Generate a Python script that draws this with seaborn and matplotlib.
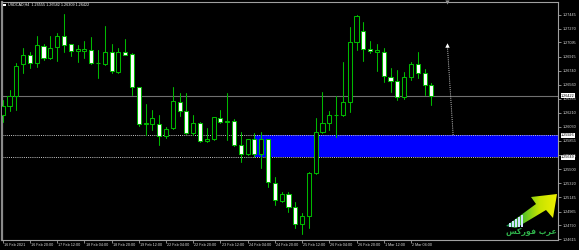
import numpy as np
import pandas as pd
import matplotlib
matplotlib.use("Agg")
import matplotlib.pyplot as plt
import matplotlib.transforms as mtransforms
from matplotlib.patches import Rectangle, Polygon
import seaborn as sns

# ---------------- data ----------------
symbol = "USDCAD,H4"
opens = [1.26181, 1.26294, 1.26420, 1.26820, 1.26937, 1.26832, 1.27054, 1.26903, 1.27034, 1.27176,
         1.27072, 1.26984, 1.26991, 1.27000, 1.26838, 1.26820, 1.26979, 1.26727, 1.26979, 1.26946,
         1.26530, 1.26068, 1.26071, 1.26064, 1.25916, 1.26013, 1.26345, 1.26235, 1.25950, 1.26084,
         1.25857, 1.25875, 1.26147, 1.26089, 1.26105, 1.25799, 1.25686, 1.25875, 1.25686, 1.25875,
         1.25328, 1.25101, 1.25186, 1.25018, 1.24804, 1.24908, 1.25446, 1.25971, 1.26084, 1.26177,
         1.26181, 1.26341, 1.27105, 1.27243, 1.27009, 1.26979, 1.26979, 1.26664, 1.26609, 1.26412,
         1.26656, 1.26824, 1.26714, 1.26555]
highs = [1.26370, 1.26496, 1.26840, 1.27021, 1.26971, 1.27176, 1.27076, 1.27176, 1.27210, 1.27454,
         1.27075, 1.27063, 1.27113, 1.27168, 1.27000, 1.27306, 1.27072, 1.27021, 1.27135, 1.26958,
         1.26532, 1.26320, 1.26244, 1.26181, 1.26034, 1.26530, 1.26454, 1.26454, 1.26181, 1.26087,
         1.26013, 1.26155, 1.26244, 1.26462, 1.26127, 1.25971, 1.25878, 1.25950, 1.25971, 1.25878,
         1.25404, 1.25215, 1.25215, 1.25089, 1.24950, 1.25467, 1.26139, 1.26475, 1.26235, 1.26420,
         1.26853, 1.27286, 1.27441, 1.27357, 1.27117, 1.27072, 1.27021, 1.26769, 1.26748, 1.26727,
         1.26853, 1.26971, 1.26757, 1.26582]
lows = [1.26097, 1.26235, 1.26244, 1.26714, 1.26769, 1.26790, 1.26874, 1.26890, 1.26865, 1.26979,
        1.26924, 1.26853, 1.26903, 1.26828, 1.26643, 1.26811, 1.26706, 1.26706, 1.26938, 1.26433,
        1.26046, 1.25929, 1.25992, 1.25803, 1.25887, 1.26001, 1.26168, 1.25945, 1.25929, 1.25845,
        1.25845, 1.25872, 1.26076, 1.25866, 1.25790, 1.25593, 1.25677, 1.25656, 1.25509, 1.25270,
        1.25047, 1.25089, 1.24963, 1.24753, 1.24682, 1.24753, 1.25443, 1.25950, 1.25992, 1.25904,
        1.26170, 1.26223, 1.27000, 1.26861, 1.26958, 1.26739, 1.26601, 1.26475, 1.26370, 1.26379,
        1.26622, 1.26643, 1.26433, 1.26309]
closes = [1.26294, 1.26420, 1.26802, 1.26933, 1.26832, 1.27059, 1.26903, 1.27029, 1.27176, 1.27063,
          1.26987, 1.27009, 1.27016, 1.26832, 1.26834, 1.26979, 1.26735, 1.26975, 1.26941, 1.26530,
          1.26068, 1.26076, 1.26147, 1.25916, 1.26008, 1.26354, 1.26235, 1.25950, 1.26080, 1.25857,
          1.25879, 1.26152, 1.26089, 1.26109, 1.25803, 1.25686, 1.25875, 1.25690, 1.25875, 1.25341,
          1.25110, 1.25186, 1.25026, 1.24808, 1.24908, 1.25446, 1.25971, 1.26076, 1.26181, 1.26185,
          1.26341, 1.27105, 1.27432, 1.27009, 1.26987, 1.27000, 1.26672, 1.26609, 1.26404, 1.26656,
          1.26824, 1.26706, 1.26559, 1.26422]

date_tick_idx = [0, 4, 8, 12, 16, 20, 24, 28, 32, 36, 40, 44, 48, 52, 56, 60]
date_labels = ["16 Feb 2021", "16 Feb 20:00", "17 Feb 12:00", "18 Feb 04:00", "18 Feb 20:00",
               "19 Feb 12:00", "22 Feb 04:00", "22 Feb 20:00", "23 Feb 12:00", "24 Feb 04:00",
               "24 Feb 20:00", "25 Feb 12:00", "26 Feb 04:00", "26 Feb 20:00", "1 Mar 12:00",
               "2 Mar 04:00"]
price_ticks = [1.27445, 1.27270, 1.27095, 1.26915, 1.26740, 1.26560, 1.26385, 1.26210, 1.26030,
               1.25855, 1.25675, 1.25500, 1.25320, 1.25145, 1.24965, 1.24790, 1.24615]

bid_price = 1.26422
zone_top = 1.25926
zone_bottom = 1.25649
zone_start_idx = 37
arrow_x = [66.2, 65.35]
arrow_y = [1.25929, 1.27063]
shift_marker_idx = 65.3
logo_text = "عرب فوركس"

# ---------------- style ----------------
GREEN = "#00b800"
GRID_GRAY = "#a0a0a0"
TXT = "#dcdcdc"
FS = 2.7

sns.set_theme(style="dark", rc={"axes.facecolor": "black", "figure.facecolor": "black",
                                "savefig.facecolor": "black"})
plt.rcParams["font.family"] = ["Liberation Sans", "DejaVu Sans"]

W, H = 579, 250
fig = plt.figure(figsize=(W / 100, H / 100), dpi=100)
L_px, R_px, T_px, B_px = 1.5, 558.0, 1.5, 240.0
ax = fig.add_axes([L_px / W, 1 - B_px / H, (R_px - L_px) / W, (B_px - T_px) / H])
ax.set_facecolor("black")

n = len(opens)
idx = np.arange(n)
df = pd.DataFrame({"idx": idx, "open": opens, "high": highs, "low": lows, "close": closes})

# wicks via seaborn (one unit per candle)
wick = pd.concat([df[["idx", "high"]].rename(columns={"high": "price"}),
                  df[["idx", "low"]].rename(columns={"low": "price"})])
wick["candle"] = wick["idx"]
sns.lineplot(data=wick, x="idx", y="price", units="candle", estimator=None, sort=False,
             color=GREEN, lw=0.75, ax=ax, legend=False, zorder=3)

# bodies
bull = df["close"] >= df["open"]
bottoms = np.minimum(df["open"], df["close"])
heights = np.abs(df["close"] - df["open"])
ax.bar(df["idx"][bull], heights[bull], bottom=bottoms[bull], width=0.6,
       color="black", edgecolor=GREEN, linewidth=0.75, zorder=4)
ax.bar(df["idx"][~bull], heights[~bull], bottom=bottoms[~bull], width=0.6,
       color="white", edgecolor=GREEN, linewidth=0.75, zorder=4)

# zone rectangle & lines
ax.add_patch(Rectangle((zone_start_idx, zone_bottom), 200, zone_top - zone_bottom,
                       facecolor="#0000ff", edgecolor="none", zorder=1))
for lvl in (zone_top, zone_bottom):
    ax.axhline(lvl, color="#c8c8c8", lw=0.7, ls=(0, (1, 1.2)), zorder=2)
ax.axhline(bid_price, color="#707070", lw=0.8, zorder=2)

# dotted arrow
ax.plot(arrow_x, arrow_y, color="#c8c8c8", lw=0.7, ls=(0, (1, 1.2)), zorder=5)
ax.plot([arrow_x[1]], [arrow_y[1]], marker="^", ms=3.2, color="white",
        markeredgewidth=0, zorder=6)
ax.plot([shift_marker_idx], [1.0], marker="v", ms=3, color="#909090",
        transform=mtransforms.blended_transform_factory(ax.transData, ax.transAxes),
        clip_on=False, markeredgewidth=0, zorder=6)

# limits
x_per_px = 1 / 6.804
ax.set_xlim(-(2.7 - L_px) * x_per_px, (R_px - 2.7) * x_per_px)
p_per_px = 0.000126
ax.set_ylim(1.27630 - p_per_px * B_px, 1.27630 - p_per_px * T_px)

# axes
for s in ax.spines.values():
    s.set_visible(True)
    s.set_color(GRID_GRAY)
    s.set_linewidth(0.8)
ax.spines["left"].set_linewidth(1.6)
ax.spines["left"].set_color("#8a8a8a")
ax.grid(False)
ax.set_xlabel("")
ax.set_ylabel("")

ax.yaxis.tick_right()
ax.set_yticks(price_ticks)
ax.set_yticklabels([f"{p:.5f}" for p in price_ticks])
ax.set_xticks(date_tick_idx)
ax.set_xticklabels(date_labels)
ax.tick_params(axis="both", which="both", length=2, width=0.6, color=GRID_GRAY,
               labelcolor=TXT, labelsize=FS, pad=1, direction="out")
ax.tick_params(axis="x", bottom=True, top=False, pad=0.5)
ax.tick_params(axis="y", right=True, left=False, labelright=True, labelleft=False)
off = mtransforms.ScaledTranslation(1.2 / 100, 0, fig.dpi_scale_trans)
for lbl in ax.get_xticklabels():
    lbl.set_horizontalalignment("left")
    lbl.set_transform(lbl.get_transform() + off)

# highlighted price labels
bt = mtransforms.blended_transform_factory(ax.transAxes, ax.transData)
for lvl in (bid_price, zone_top, zone_bottom):
    ax.text(1.0 + 3.0 / (R_px - L_px), lvl, f"{lvl:.5f}", transform=bt, ha="left", va="center",
            fontsize=FS, color="black", clip_on=False, zorder=10,
            bbox=dict(facecolor="white", edgecolor="none", pad=0.35))

# header
fig.text(8 / W, 1 - 5 / H, f"{symbol}  {opens[-1]:.5f} {highs[-1]:.5f} {lows[-1]:.5f} {closes[-1]:.5f}",
         ha="left", va="center", fontsize=FS, color="white")
fig.add_artist(Rectangle((3.4 / W, 1 - 6.2 / H), 2.2 / W, 2.2 / H, transform=fig.transFigure,
                         facecolor="white", edgecolor="none"))

# logo (watermark)
AR_FORMS = {
    "ع": ("\uFEC9", "\uFECA", "\uFECB", "\uFECC"),
    "ر": ("\uFEAD", "\uFEAE", None, None),
    "ب": ("\uFE8F", "\uFE90", "\uFE91", "\uFE92"),
    "ف": ("\uFED1", "\uFED2", "\uFED3", "\uFED4"),
    "و": ("\uFEED", "\uFEEE", None, None),
    "ك": ("\uFED9", "\uFEDA", "\uFEDB", "\uFEDC"),
    "س": ("\uFEB1", "\uFEB2", "\uFEB3", "\uFEB4"),
}


def shape_arabic(s):
    out = []
    for i, c in enumerate(s):
        if c not in AR_FORMS:
            out.append(c)
            continue
        f = AR_FORMS[c]
        prev = s[i - 1] if i > 0 else ""
        nxt = s[i + 1] if i + 1 < len(s) else ""
        jp = prev in AR_FORMS and AR_FORMS[prev][2] is not None
        jn = f[2] is not None and nxt in AR_FORMS
        g = f[3] if (jp and jn) else f[1] if jp else f[2] if jn else f[0]
        out.append(g)
    return "".join(reversed(out))


lx0, lx1, ly0, ly1 = 498, 558, 190, 238
lax = fig.add_axes([lx0 / W, 1 - ly1 / H, (lx1 - lx0) / W, (ly1 - ly0) / H])
lax.set_xlim(lx0, lx1)
lax.set_ylim(ly1, ly0)
lax.axis("off")
lax.patch.set_alpha(0)
arrow_poly = Polygon([(506, 226), (536, 204), (531, 197), (557, 194), (553, 218), (546, 210),
                      (516, 228)], closed=True, facecolor="none", edgecolor="none")
lax.add_patch(arrow_poly)
gx = np.linspace(0, 1, 64)
grad = np.tile(gx, (32, 1))
from matplotlib.colors import LinearSegmentedColormap
cmap = LinearSegmentedColormap.from_list("logo", ["#108a55", "#4cbf2a", "#c8e400", "#f0f000"])
im = lax.imshow(grad, extent=(504, 558, 229, 193), cmap=cmap, aspect="auto", zorder=1)
im.set_clip_path(arrow_poly)
for bx, bh in zip([509, 512, 515, 518, 521], [4, 6, 8, 10, 12]):
    lax.add_patch(Rectangle((bx, 227 - bh), 1.6, bh, facecolor="#cfe3ff", edgecolor="none",
                            zorder=2))
lax.text(557, 231.5, shape_arabic(logo_text), ha="right", va="center", fontsize=5.6,
         fontweight="bold", color="#2fb04a", family=["DejaVu Sans"], zorder=3)

fig.savefig("out.png", dpi=100, facecolor="black")
